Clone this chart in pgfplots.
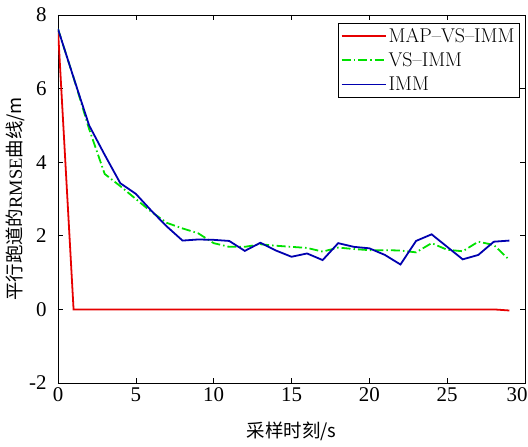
\documentclass[border=0pt]{standalone}
\usepackage{fontspec}
\usepackage{pgfplots}
\pgfplotsset{compat=1.18}
\newfontfamily\cjk{Noto Sans CJK SC}
\newfontfamily\timesf{Liberation Serif}
\definecolor{mred}{RGB}{230,0,0}
\definecolor{mgreen}{RGB}{0,225,0}
\definecolor{mblue}{RGB}{0,0,175}
\begin{document}
\begin{tikzpicture}
\begin{axis}[
  name=ax,
  scale only axis,
  width=467bp, height=368bp,
  xmin=0, xmax=30, ymin=-2, ymax=8,
  xtick={0,5,...,30}, ytick={-2,0,...,8},
  xticklabels={0,5,10,15,20,25,\hspace*{-16bp}30},
  tick align=inside, tick pos=both,
  major tick length=5bp,
  tick style={black, line width=0.6pt},
  axis line style={line width=0.7pt},
  /pgf/number format/assume math mode=true,
  tick label style={font=\timesf\fontsize{21}{22}\selectfont},
  xticklabel style={yshift=-1bp},
  yticklabel style={xshift=-8bp},
  xlabel={\cjk\fontsize{18.5}{20}\selectfont 采样时刻/s},
  ylabel={\cjk\fontsize{18.5}{20}\selectfont 平行跑道的\timesf RMSE\cjk 曲线/m},
  xlabel style={yshift=-13bp},
  ylabel style={yshift=-3bp},
  legend style={at={(0.989,0.979)}, anchor=north east, draw=black, line width=0.6pt,
    font=\fontsize{20}{22}\selectfont, row sep=5bp, inner sep=3bp,
    legend cell align=left},
  legend image code/.code={\draw[#1] (0cm,0cm) -- (44bp,0cm);},
]
\addplot[mred, line width=1.8pt] coordinates {
(0,7.6) (1,0) (2,0) (28,0) (29,-0.03)
};
\addlegendentry{MAP--VS--IMM}
\addplot[mgreen, line width=1.8pt, dash pattern=on 9bp off 3bp on 1.5bp off 3bp] coordinates {
(0,7.62) (1,6.3) (2,4.9) (3,3.68) (4,3.35) (5,3.0) (6,2.65) (7,2.35) (8,2.2) (9,2.07)
(10,1.8) (11,1.7) (12,1.7) (13,1.77) (14,1.73) (15,1.70) (16,1.67) (17,1.57) (18,1.68) (19,1.64)
(20,1.61) (21,1.61) (22,1.6) (23,1.55) (24,1.8) (25,1.62) (26,1.58) (27,1.84) (28,1.75) (29,1.34)
};
\addlegendentry{VS--IMM}
\addplot[mblue, line width=1.8pt] coordinates {
(0,7.62) (1,6.3) (2,5.0) (3,4.2) (4,3.43) (5,3.14) (6,2.68) (7,2.25) (8,1.87) (9,1.9)
(10,1.89) (11,1.86) (12,1.59) (13,1.81) (14,1.6) (15,1.43) (16,1.52) (17,1.34) (18,1.80) (19,1.70)
(20,1.66) (21,1.48) (22,1.22) (23,1.86) (24,2.04) (25,1.70) (26,1.36) (27,1.48) (28,1.84) (29,1.87)
};
\addlegendentry{IMM}
\end{axis}
\pgfresetboundingbox
\path[use as bounding box] ([shift={(-58bp,15bp)}]ax.north west) rectangle ([shift={(3bp,-64bp)}]ax.south east);
\end{tikzpicture}
\end{document}
